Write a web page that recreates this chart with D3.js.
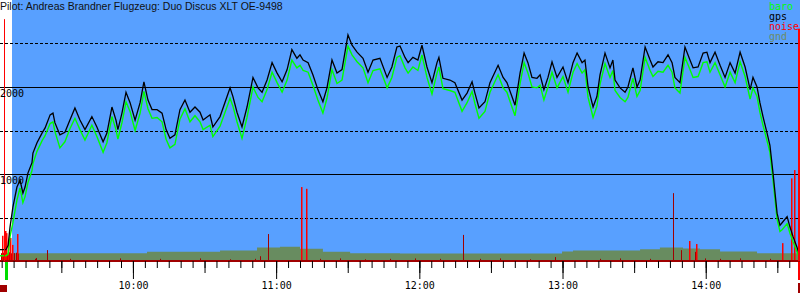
<!DOCTYPE html>
<html>
<head>
<meta charset="utf-8">
<script src="https://cdn.jsdelivr.net/npm/d3@7"></script>
<style>
  body { margin: 0; background: #fff; }
  svg { display: block; }
</style>
</head>
<body>
<script>
'use strict';

const title = "Pilot: Andreas Brandner Flugzeug: Duo Discus XLT OE-9498";
const legendNames = ["baro", "gps", "noise", "gnd"];

// time in minutes after midnight, altitudes in metres
const times = [544.3, 546.8, 547.7, 548.5, 549.7, 551.4, 552.7, 553.9, 554.8, 556.0,
  557.7, 558.1, 559.8, 561.9, 563.2, 565.3, 566.5, 567.3, 569.4, 571.5,
  573.6, 575.7, 577.8, 579.9, 582.8, 584.9, 587.5, 589.1, 591.2, 592.9,
  593.7, 595.4, 597.1, 598.8, 600.9, 603.0, 604.6, 606.3, 608.0, 610.1,
  612.2, 613.9, 615.5, 617.6, 619.7, 621.8, 623.9, 626.0, 628.1, 629.4,
  632.3, 633.5, 636.5, 640.7, 641.9, 643.6, 645.7, 647.8, 650.3, 652.4,
  654.1, 656.2, 658.3, 660.4, 662.5, 664.6, 666.6, 668.7, 670.0, 671.3,
  673.4, 675.4, 677.5, 679.6, 681.3, 683.4, 685.5, 687.6, 690.1, 691.8,
  693.9, 696.4, 698.5, 700.6, 703.5, 706.5, 708.5, 710.6, 711.9, 714.0,
  715.3, 717.3, 719.4, 721.1, 723.2, 725.3, 727.4, 728.2, 729.9, 732.8,
  734.9, 737.9, 740.0, 742.1, 743.3, 745.0, 747.5, 749.6, 753.0, 755.1,
  756.7, 758.8, 760.1, 762.2, 763.9, 765.5, 767.2, 769.3, 770.6, 772.2,
  773.9, 775.6, 777.7, 780.2, 782.3, 784.4, 786.1, 788.2, 789.4, 790.7,
  792.8, 794.4, 795.7, 797.8, 799.9, 801.1, 802.0, 804.1, 806.2, 807.4,
  809.5, 811.2, 812.5, 814.6, 816.7, 817.9, 820.0, 822.1, 824.2, 825.9,
  827.1, 829.2, 831.3, 833.4, 834.7, 836.8, 838.9, 840.5, 841.8, 843.9,
  846.0, 848.1, 850.2, 852.3, 854.4, 856.5, 858.6, 859.8, 861.5, 862.7,
  864.0, 865.7, 866.9, 868.2, 869.9, 871.1, 872.0, 874.1, 875.3, 876.6,
  878.2, 879.5];

const gpsAlt = [130, 130, 180, 390, 620, 850, 930, 780, 850, 1010,
  1130, 1240, 1360, 1470, 1530, 1680, 1700, 1590, 1450, 1480,
  1620, 1760, 1620, 1510, 1660, 1540, 1370, 1470, 1770, 1620,
  1510, 1700, 1940, 1820, 1620, 1820, 2060, 1850, 1740, 1740,
  1700, 1510, 1410, 1450, 1740, 1850, 1710, 1770, 1710, 1620,
  1680, 1540, 1660, 1990, 1890, 1710, 1540, 1770, 2110, 1990,
  1940, 2080, 2280, 2160, 2060, 2200, 2430, 2330, 2370, 2310,
  2280, 2140, 1970, 1830, 1990, 2310, 2160, 2200, 2600, 2480,
  2400, 2330, 2170, 2310, 2330, 2110, 2230, 2460, 2470, 2340,
  2280, 2340, 2310, 2480, 2230, 2050, 2280, 2340, 2100, 2080,
  2050, 1850, 1930, 2060, 1930, 1760, 1830, 2050, 2250, 2110,
  2050, 1890, 1790, 2160, 2390, 2280, 2110, 2100, 2140, 1970,
  2110, 2290, 2110, 2230, 2050, 2280, 2390, 2280, 2310, 2000,
  1770, 1890, 2140, 2390, 2220, 2310, 2080, 1990, 1940, 2000,
  2220, 2000, 2080, 2460, 2310, 2230, 2290, 2280, 2370, 2280,
  2110, 2050, 2460, 2310, 2220, 2230, 2390, 2400, 2280, 2400,
  2250, 2110, 2280, 2160, 2400, 2230, 1970, 2110, 2000, 1820,
  1660, 1470, 1330, 1010, 550, 410, 440, 510, 390, 280,
  160, 50];

const baroAlt = [60, 60, 80, 280, 440, 700, 840, 670, 740, 900,
  1040, 1120, 1260, 1380, 1440, 1580, 1600, 1490, 1300, 1370,
  1520, 1640, 1510, 1390, 1560, 1430, 1250, 1360, 1660, 1510,
  1400, 1590, 1830, 1720, 1500, 1700, 1950, 1750, 1640, 1650,
  1600, 1400, 1300, 1340, 1630, 1750, 1600, 1670, 1600, 1510,
  1560, 1430, 1550, 1870, 1780, 1600, 1410, 1650, 2000, 1880,
  1830, 1970, 2170, 2050, 1940, 2080, 2310, 2220, 2250, 2190,
  2170, 2020, 1850, 1700, 1870, 2200, 2040, 2080, 2470, 2370,
  2290, 2220, 2050, 2190, 2210, 1990, 2110, 2340, 2360, 2220,
  2160, 2230, 2190, 2370, 2110, 1920, 2160, 2230, 1980, 1960,
  1940, 1720, 1820, 1950, 1810, 1640, 1720, 1940, 2140, 1990,
  1940, 1770, 1670, 2040, 2280, 2160, 2000, 1990, 2020, 1850,
  2000, 2170, 1990, 2120, 1940, 2170, 2270, 2160, 2200, 1880,
  1650, 1780, 2030, 2270, 2110, 2190, 1960, 1880, 1830, 1880,
  2100, 1890, 1960, 2340, 2190, 2120, 2180, 2170, 2250, 2170,
  1990, 1930, 2340, 2200, 2110, 2120, 2280, 2290, 2170, 2280,
  2140, 2000, 2170, 2050, 2290, 2120, 1860, 1990, 1890, 1710,
  1560, 1380, 1250, 930, 480, 340, 360, 430, 320, 220,
  110, 20];

const gndTimes = [546.8, 605.9, 636.5, 652.0, 661.6, 670.0, 679.6, 691.0, 711.9, 779.0,
  779.8, 784.4, 812.5, 820.8, 830.5, 837.6, 846.0, 861.5, 879.5];
const gndAlt = [90, 105, 120, 155, 165, 140, 105, 90, 85, 85,
  110, 120, 135, 155, 145, 135, 110, 90, 90];

// engine noise level, two kinds of readings
const noiseTimes = [544.7, 545.6, 547.2, 548.1, 548.9, 550.2, 551.0, 551.8, 559.0, 559.4,
  564.0, 573.6, 594.6, 611.3, 628.1, 640.7, 651.1, 653.2, 656.5, 678.4,
  686.8, 697.2, 707.7, 718.2, 728.7, 738.3, 745.4, 753.8, 766.4, 776.8,
  795.7, 804.1, 816.7, 826.3, 829.6, 835.5, 839.7, 846.0, 854.4, 866.9];
const noiseVals = [90, 95, 80, 100, 85, 90, 95, 85, 25, 35,
  125, 25, 30, 25, 30, 20, 25, 55, 310, 25,
  30, 20, 25, 30, 25, 300, 25, 30, 20, 45,
  25, 30, 25, 780, 125, 105, 30, 25, 30, 25];
const peakTimes = [545.1, 546.4, 546.8, 547.7, 548.5, 549.3, 551.4, 670.4, 672.5, 833.0,
  835.9, 872.0, 875.7, 877.0];
const peakVals = [290, 345, 320, 240, 265, 185, 310, 850, 830, 230,
  195, 205, 950, 1045];

const takeoff = 546.0;
const landing = 878.7;
const takeoffMark = 2780;
const landingMark = 2670;

const solidLevels = [1000, 2000];
const dashedLevels = [500, 1500, 2500];
const labelLevels = [1000, 2000];

const W = 800, H = 300;
const plotLeft = 12, plotBottom = 261;

const svg = d3.select("body").append("svg")
  .attr("width", W)
  .attr("height", H);

const x = d3.scaleLinear().domain([544.3, 879.5]).range([0, W]);
const y = d3.scaleLinear().domain([0, 3000]).range([plotBottom, 0]);

const blue = "#58a0ff";
const olive = "#688c60";
const darkRed = "#a00000";

svg.append("rect")
  .attr("x", plotLeft).attr("y", 0)
  .attr("width", W - plotLeft).attr("height", plotBottom)
  .attr("fill", blue);

// ground
const gnd = gndTimes.map((t, i) => ({ t: t, v: gndAlt[i] }));
svg.append("path")
  .datum(gnd)
  .attr("fill", olive)
  .attr("d", d3.area().curve(d3.curveStepAfter)
    .x(d => x(d.t)).y0(y(0)).y1(d => y(d.v)));

// grid
svg.selectAll(".solid")
  .data(solidLevels).enter().append("line")
  .attr("x1", 0).attr("x2", W)
  .attr("y1", d => Math.round(y(d)) + 0.5).attr("y2", d => Math.round(y(d)) + 0.5)
  .attr("stroke", "#000");
svg.selectAll(".dashed")
  .data(dashedLevels).enter().append("line")
  .attr("x1", 0).attr("x2", W)
  .attr("y1", d => Math.round(y(d)) + 0.5).attr("y2", d => Math.round(y(d)) + 0.5)
  .attr("stroke", "#000")
  .attr("stroke-dasharray", "3,2");

// noise bars
svg.selectAll(".nz")
  .data(noiseTimes.map((t, i) => ({ t: t, v: noiseVals[i] })))
  .enter().append("rect")
  .attr("x", d => Math.round(x(d.t)))
  .attr("y", d => y(d.v))
  .attr("width", 1)
  .attr("height", d => y(0) - y(d.v))
  .attr("fill", darkRed);
svg.selectAll(".pk")
  .data(peakTimes.map((t, i) => ({ t: t, v: peakVals[i] })))
  .enter().append("rect")
  .attr("x", d => Math.round(x(d.t)))
  .attr("y", d => y(d.v))
  .attr("width", 1.5)
  .attr("height", d => y(0) - y(d.v))
  .attr("fill", "#ff0000");

svg.append("line")
  .attr("x1", 0).attr("x2", W)
  .attr("y1", y(0)).attr("y2", y(0))
  .attr("stroke", darkRed).attr("stroke-width", 2);

// traces
const line = d3.line().x(d => x(d.t)).y(d => y(d.v));
svg.append("path")
  .datum(times.map((t, i) => ({ t: t, v: baroAlt[i] })))
  .attr("fill", "none").attr("stroke", "#00ff00").attr("stroke-width", 1.4)
  .attr("d", line);
svg.append("path")
  .datum(times.map((t, i) => ({ t: t, v: gpsAlt[i] })))
  .attr("fill", "none").attr("stroke", "#000").attr("stroke-width", 1.3)
  .attr("d", line);

// takeoff / landing markers
svg.append("rect")
  .attr("x", Math.round(x(takeoff))).attr("y", y(takeoffMark))
  .attr("width", 1).attr("height", y(0) - y(takeoffMark))
  .attr("fill", "#ff0000");
svg.append("rect")
  .attr("x", Math.round(x(landing))).attr("y", y(landingMark))
  .attr("width", 2).attr("height", y(0) - y(landingMark))
  .attr("fill", "#ff0000");
svg.append("rect")
  .attr("x", Math.round(x(takeoff)) + 1).attr("y", plotBottom + 1)
  .attr("width", 3).attr("height", 18)
  .attr("fill", "#00dd00");
svg.append("rect")
  .attr("x", 0).attr("y", 285)
  .attr("width", 7).attr("height", 7)
  .attr("fill", darkRed);
svg.append("rect")
  .attr("x", Math.round(x(landing))).attr("y", plotBottom + 1)
  .attr("width", 2).attr("height", 18)
  .attr("fill", "#ff0000");
svg.append("rect")
  .attr("x", Math.round(x(landing))).attr("y", 283)
  .attr("width", 2).attr("height", 10)
  .attr("fill", darkRed);

// time axis: 5 min, 30 min, hour ticks
const fmt = m => Math.floor(m / 60) + ":" + String(m % 60).padStart(2, "0");
const tickSets = [
  { step: 5, size: 7, label: false },
  { step: 30, size: 12, label: false },
  { step: 60, size: 18, label: true }
];
tickSets.forEach(s => {
  const vals = d3.range(Math.ceil(544.3 / s.step) * s.step, 879.5, s.step);
  const ax = d3.axisBottom(x)
    .tickValues(vals)
    .tickSize(s.size)
    .tickPadding(3)
    .tickFormat(s.label ? fmt : "");
  const g = svg.append("g")
    .attr("transform", "translate(0," + plotBottom + ")")
    .call(ax);
  g.select(".domain").remove();
  g.selectAll("text")
    .attr("font-family", "DejaVu Sans Mono, monospace")
    .attr("font-size", 10)
    .attr("fill", "#000");
});

// altitude labels
svg.selectAll(".ylab")
  .data(labelLevels).enter().append("text")
  .attr("x", 0)
  .attr("y", d => y(d) + 10)
  .attr("font-family", "DejaVu Sans Mono, monospace")
  .attr("font-size", 10)
  .text(d => d);

// title
svg.append("text")
  .attr("x", 0).attr("y", 10)
  .attr("font-family", "Liberation Sans, Arial, sans-serif")
  .attr("font-size", 10.5)
  .attr("fill", "#111")
  .text(title);

// legend
const legendColors = ["#00ff00", "#000", "#ff0000", "#6e8c66"];
svg.selectAll(".leg")
  .data(legendNames).enter().append("text")
  .attr("x", 769)
  .attr("y", (d, i) => 10 + i * 10)
  .attr("font-family", "DejaVu Sans Mono, monospace")
  .attr("font-size", 10)
  .attr("fill", (d, i) => legendColors[i])
  .text(d => d);
</script>
</body>
</html>
